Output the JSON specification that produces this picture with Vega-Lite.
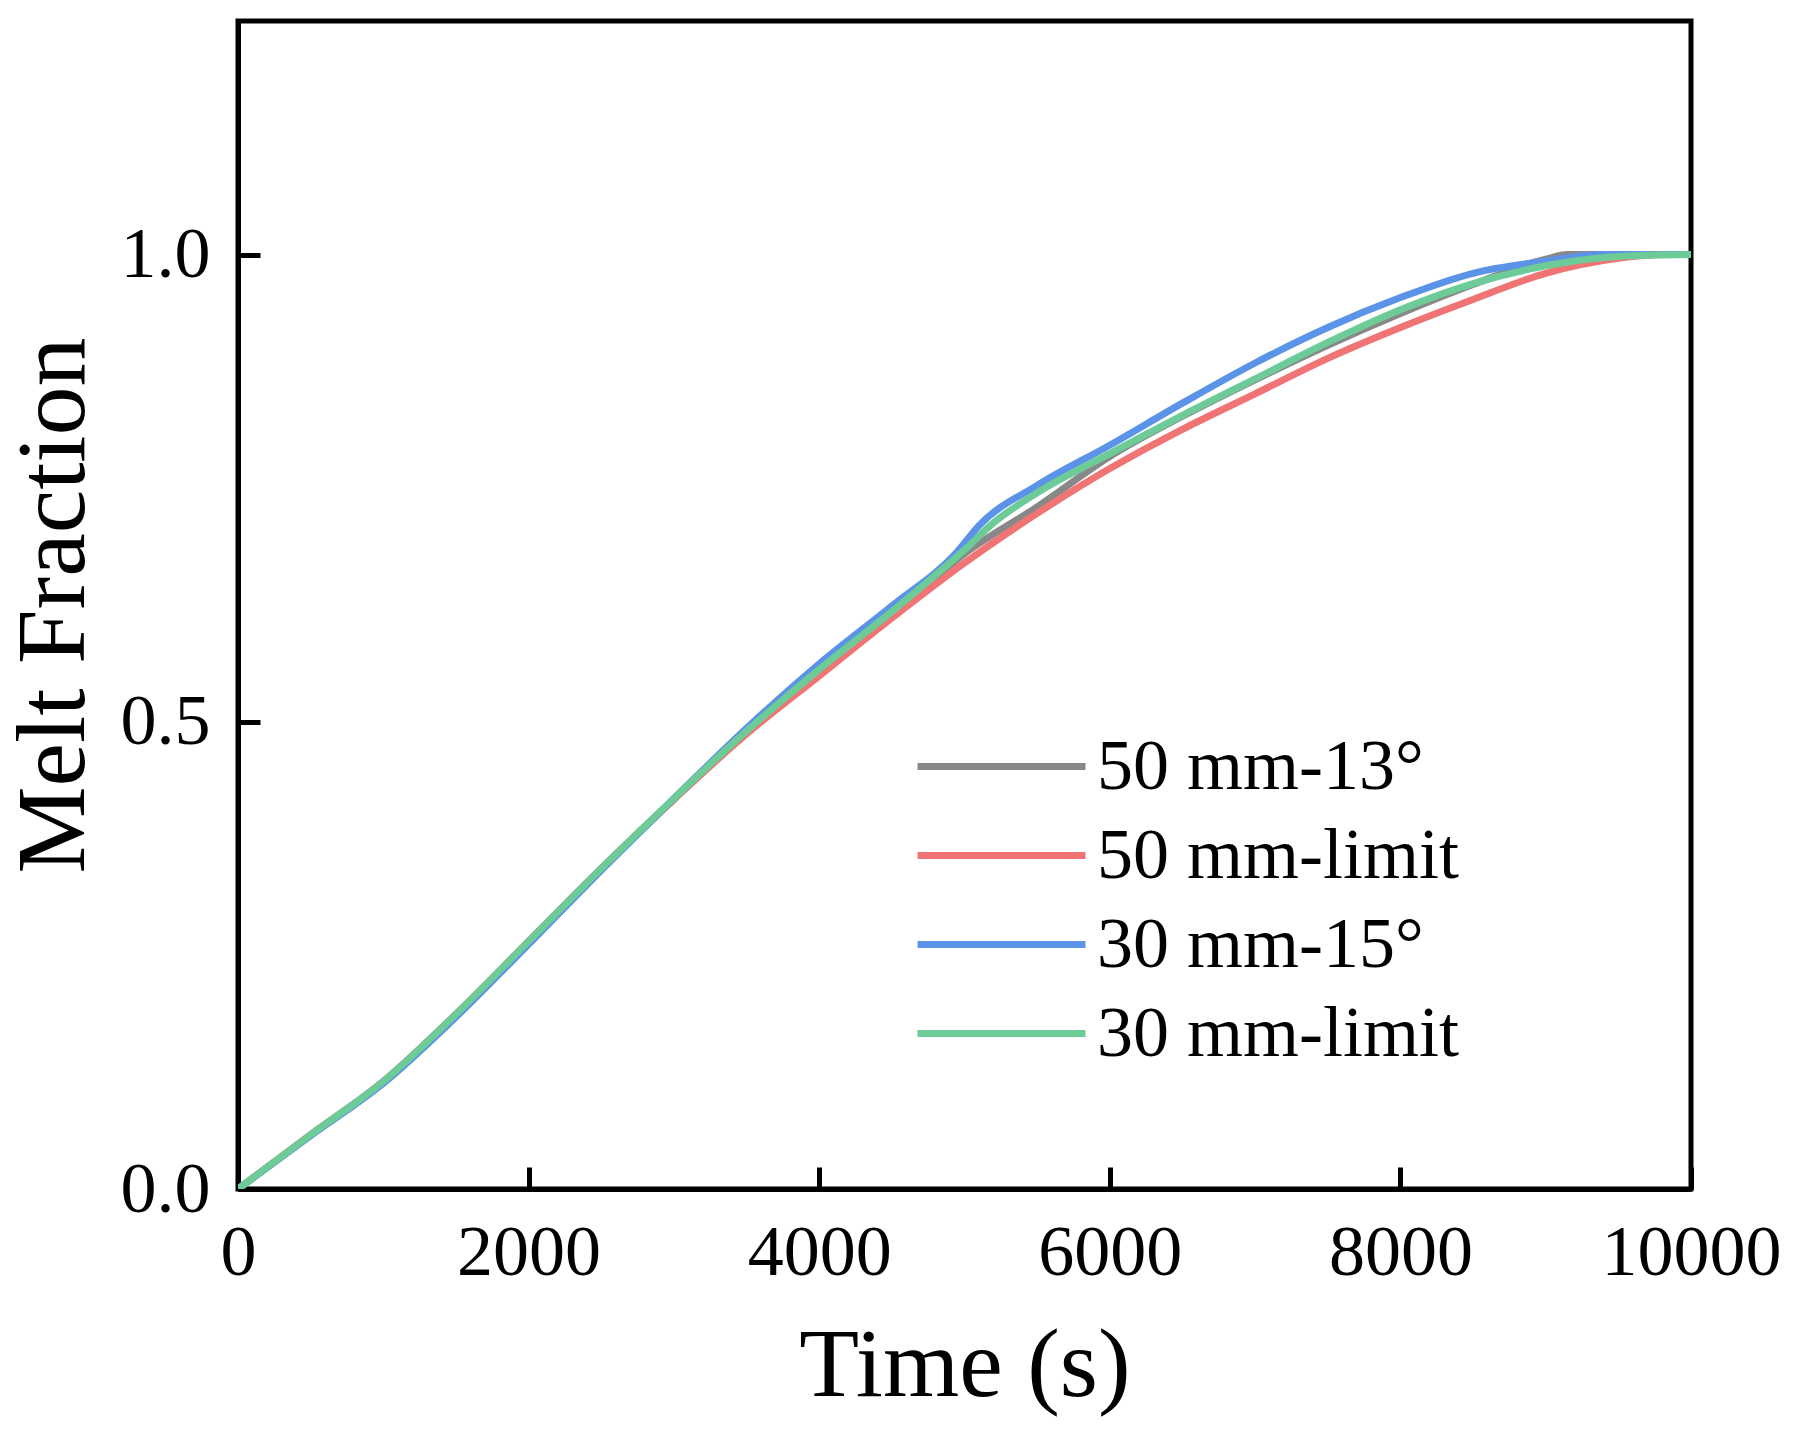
{
  "$schema": "https://vega.github.io/schema/vega-lite/v6.json",
  "description": "Melt fraction over time for four fin configurations.",
  "autosize": {"type": "none"},
  "padding": {"left": 238, "top": 21, "right": 102, "bottom": 246},
  "width": 1453,
  "height": 1168,
  "background": "white",
  "config": {
    "font": "Liberation Serif",
    "view": {"stroke": "black", "strokeWidth": 5},
    "axis": {
      "grid": false,
      "domainColor": "black",
      "domainWidth": 5,
      "tickColor": "black",
      "tickWidth": 5,
      "tickSize": -22,
      "labelFont": "Liberation Serif",
      "labelFontSize": 72,
      "labelColor": "black",
      "labelLimit": 0,
      "titleFont": "Liberation Serif",
      "titleFontSize": 98,
      "titleFontWeight": "normal",
      "titleColor": "black"
    },
    "legend": {
      "labelFont": "Liberation Serif",
      "labelFontSize": 72,
      "labelColor": "black",
      "labelLimit": 0
    }
  },
  "data": {
    "values": [
      {"series": "50 mm-13°", "t": 0, "f": 0},
      {"series": "50 mm-13°", "t": 500, "f": 0.058},
      {"series": "50 mm-13°", "t": 1000, "f": 0.115},
      {"series": "50 mm-13°", "t": 1500, "f": 0.187},
      {"series": "50 mm-13°", "t": 2000, "f": 0.265},
      {"series": "50 mm-13°", "t": 2500, "f": 0.343},
      {"series": "50 mm-13°", "t": 3000, "f": 0.417},
      {"series": "50 mm-13°", "t": 3500, "f": 0.488},
      {"series": "50 mm-13°", "t": 4000, "f": 0.551},
      {"series": "50 mm-13°", "t": 4500, "f": 0.613},
      {"series": "50 mm-13°", "t": 5000, "f": 0.680},
      {"series": "50 mm-13°", "t": 5500, "f": 0.730},
      {"series": "50 mm-13°", "t": 6000, "f": 0.784},
      {"series": "50 mm-13°", "t": 6500, "f": 0.827},
      {"series": "50 mm-13°", "t": 7000, "f": 0.866},
      {"series": "50 mm-13°", "t": 7500, "f": 0.903},
      {"series": "50 mm-13°", "t": 8000, "f": 0.937},
      {"series": "50 mm-13°", "t": 8500, "f": 0.968},
      {"series": "50 mm-13°", "t": 9000, "f": 0.995},
      {"series": "50 mm-13°", "t": 9150, "f": 1.0},
      {"series": "50 mm-13°", "t": 10000, "f": 1.0},

      {"series": "50 mm-limit", "t": 0, "f": 0},
      {"series": "50 mm-limit", "t": 500, "f": 0.058},
      {"series": "50 mm-limit", "t": 1000, "f": 0.115},
      {"series": "50 mm-limit", "t": 1500, "f": 0.187},
      {"series": "50 mm-limit", "t": 2000, "f": 0.265},
      {"series": "50 mm-limit", "t": 2500, "f": 0.343},
      {"series": "50 mm-limit", "t": 3000, "f": 0.417},
      {"series": "50 mm-limit", "t": 3500, "f": 0.487},
      {"series": "50 mm-limit", "t": 4000, "f": 0.549},
      {"series": "50 mm-limit", "t": 4500, "f": 0.611},
      {"series": "50 mm-limit", "t": 5000, "f": 0.670},
      {"series": "50 mm-limit", "t": 5500, "f": 0.723},
      {"series": "50 mm-limit", "t": 6000, "f": 0.771},
      {"series": "50 mm-limit", "t": 6500, "f": 0.813},
      {"series": "50 mm-limit", "t": 7000, "f": 0.851},
      {"series": "50 mm-limit", "t": 7500, "f": 0.889},
      {"series": "50 mm-limit", "t": 8000, "f": 0.922},
      {"series": "50 mm-limit", "t": 8500, "f": 0.952},
      {"series": "50 mm-limit", "t": 9000, "f": 0.980},
      {"series": "50 mm-limit", "t": 9500, "f": 0.996},
      {"series": "50 mm-limit", "t": 9800, "f": 1.0},
      {"series": "50 mm-limit", "t": 10000, "f": 1.0},

      {"series": "30 mm-15°", "t": 0, "f": 0},
      {"series": "30 mm-15°", "t": 500, "f": 0.057},
      {"series": "30 mm-15°", "t": 1000, "f": 0.113},
      {"series": "30 mm-15°", "t": 1500, "f": 0.184},
      {"series": "30 mm-15°", "t": 2000, "f": 0.262},
      {"series": "30 mm-15°", "t": 2500, "f": 0.341},
      {"series": "30 mm-15°", "t": 3000, "f": 0.418},
      {"series": "30 mm-15°", "t": 3500, "f": 0.493},
      {"series": "30 mm-15°", "t": 4000, "f": 0.562},
      {"series": "30 mm-15°", "t": 4500, "f": 0.624},
      {"series": "30 mm-15°", "t": 4950, "f": 0.682},
      {"series": "30 mm-15°", "t": 5100, "f": 0.710},
      {"series": "30 mm-15°", "t": 5500, "f": 0.753},
      {"series": "30 mm-15°", "t": 6000, "f": 0.796},
      {"series": "30 mm-15°", "t": 6500, "f": 0.841},
      {"series": "30 mm-15°", "t": 7000, "f": 0.884},
      {"series": "30 mm-15°", "t": 7500, "f": 0.922},
      {"series": "30 mm-15°", "t": 8000, "f": 0.954},
      {"series": "30 mm-15°", "t": 8500, "f": 0.980},
      {"series": "30 mm-15°", "t": 9000, "f": 0.993},
      {"series": "30 mm-15°", "t": 9400, "f": 1.0},
      {"series": "30 mm-15°", "t": 10000, "f": 1.0},

      {"series": "30 mm-limit", "t": 0, "f": 0},
      {"series": "30 mm-limit", "t": 500, "f": 0.058},
      {"series": "30 mm-limit", "t": 1000, "f": 0.115},
      {"series": "30 mm-limit", "t": 1500, "f": 0.187},
      {"series": "30 mm-limit", "t": 2000, "f": 0.265},
      {"series": "30 mm-limit", "t": 2500, "f": 0.343},
      {"series": "30 mm-limit", "t": 3000, "f": 0.418},
      {"series": "30 mm-limit", "t": 3500, "f": 0.490},
      {"series": "30 mm-limit", "t": 4000, "f": 0.556},
      {"series": "30 mm-limit", "t": 4500, "f": 0.618},
      {"series": "30 mm-limit", "t": 5000, "f": 0.684},
      {"series": "30 mm-limit", "t": 5200, "f": 0.713},
      {"series": "30 mm-limit", "t": 5500, "f": 0.745},
      {"series": "30 mm-limit", "t": 6000, "f": 0.787},
      {"series": "30 mm-limit", "t": 6500, "f": 0.828},
      {"series": "30 mm-limit", "t": 7000, "f": 0.867},
      {"series": "30 mm-limit", "t": 7500, "f": 0.906},
      {"series": "30 mm-limit", "t": 8000, "f": 0.941},
      {"series": "30 mm-limit", "t": 8500, "f": 0.969},
      {"series": "30 mm-limit", "t": 9000, "f": 0.988},
      {"series": "30 mm-limit", "t": 9500, "f": 0.998},
      {"series": "30 mm-limit", "t": 10000, "f": 1.0}
    ]
  },
  "mark": {"type": "line", "strokeWidth": 7, "interpolate": "monotone", "clip": true},
  "encoding": {
    "x": {
      "field": "t",
      "type": "quantitative",
      "title": "Time (s)",
      "scale": {"domain": [0, 10000], "nice": false},
      "axis": {"values": [0, 2000, 4000, 6000, 8000, 10000], "format": "d", "labelPadding": 50, "titlePadding": 30, "labelFlush": false}
    },
    "y": {
      "field": "f",
      "type": "quantitative",
      "title": "Melt Fraction",
      "scale": {"domain": [0, 1.25], "nice": false},
      "axis": {"values": [0, 0.5, 1.0], "format": ".1f", "labelPadding": 50, "titlePadding": 16, "labelFlush": false}
    },
    "color": {
      "field": "series",
      "type": "nominal",
      "sort": ["50 mm-13°", "50 mm-limit", "30 mm-15°", "30 mm-limit"],
      "scale": {
        "domain": ["50 mm-13°", "50 mm-limit", "30 mm-15°", "30 mm-limit"],
        "range": ["#888888", "#f07474", "#5b93e8", "#6ccb96"]
      },
      "legend": {
        "title": null,
        "orient": "none",
        "legendX": 724,
        "legendY": 706,
        "padding": 0,
        "symbolType": "M-2.333,0H2.333",
        "symbolSize": 5184,
        "symbolStrokeWidth": 7,
        "labelOffset": 56,
        "rowPadding": 13
      }
    }
  }
}
